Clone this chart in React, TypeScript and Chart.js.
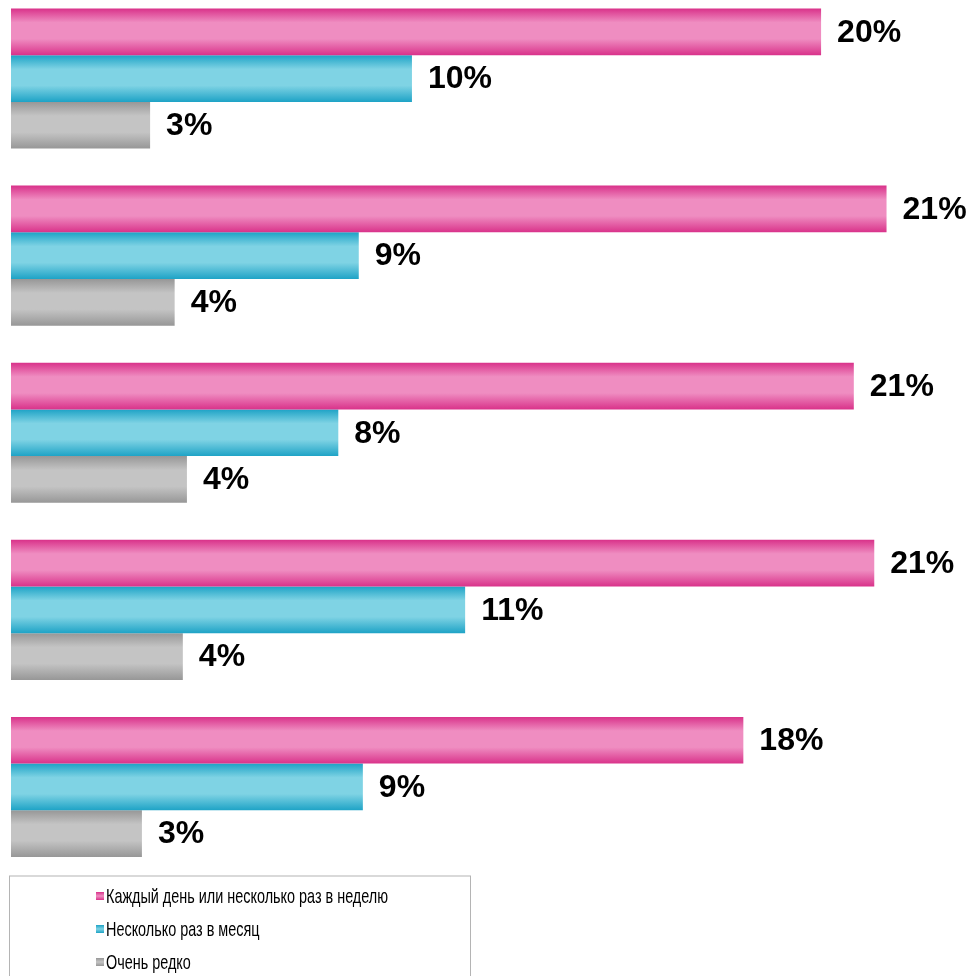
import React, { useEffect, useRef } from "react";
import { Chart, registerables } from "chart.js";

Chart.register(...registerables);

const categories = ["Группа 1", "Группа 2", "Группа 3", "Группа 4", "Группа 5"];
const seriesNames = [
  "Каждый день или несколько раз в неделю",
  "Несколько раз в месяц",
  "Очень редко",
];
const dailyValues = [19.8, 21.4, 20.6, 21.1, 17.9];
const monthlyValues = [9.8, 8.5, 8.0, 11.1, 8.6];
const rareValues = [3.4, 4.0, 4.3, 4.2, 3.2];

const CAT_PCT = 0.791;

const palettes = [
  { edge: "#d9328a", mid: "#ef8dc1", solid: "#e4519f" },
  { edge: "#1ea3c6", mid: "#7fd3e4", solid: "#3db8d6" },
  { edge: "#979797", mid: "#c4c4c4", solid: "#a8a8a8" },
];

function gradientFor(ctx: any) {
  const pal = palettes[ctx.datasetIndex] || palettes[0];
  const chart = ctx.chart;
  const ys = chart.scales && chart.scales.y;
  if (!ys || ctx.dataIndex === undefined || !chart.ctx) return pal.solid;
  const center = ys.getPixelForValue(ctx.dataIndex);
  const catH = ys.height / categories.length;
  const groupH = catH * CAT_PCT;
  const thick = groupH / 3;
  const top = center - groupH / 2 + ctx.datasetIndex * thick;
  if (!isFinite(top)) return pal.solid;
  const g = chart.ctx.createLinearGradient(0, top, 0, top + thick);
  g.addColorStop(0, pal.edge);
  g.addColorStop(0.3, pal.mid);
  g.addColorStop(0.65, pal.mid);
  g.addColorStop(1, pal.edge);
  return g;
}

const valueLabels = {
  id: "valueLabels",
  afterDatasetsDraw(chart: any) {
    const c = chart.ctx;
    c.save();
    c.font = 'bold 32px "Liberation Sans", Arial, sans-serif';
    c.fillStyle = "#000";
    c.textBaseline = "middle";
    c.textAlign = "left";
    chart.data.datasets.forEach((ds: any, di: number) => {
      const meta = chart.getDatasetMeta(di);
      meta.data.forEach((el: any, i: number) => {
        const v = ds.data[i];
        c.fillText(Math.round(v) + "%", el.x + 16, el.y + 1);
      });
    });
    c.restore();
  },
};

const boxedLegend = {
  id: "boxedLegend",
  afterDraw(chart: any) {
    const c = chart.ctx;
    const area = chart.chartArea;
    const top = area.bottom + 0.5;
    c.save();
    c.strokeStyle = "#b4b4b4";
    c.lineWidth = 1;
    c.strokeRect(9.5, top, 461, chart.height - top + 5);
    c.font = '21px "Liberation Sans", Arial, sans-serif';
    const w0 = c.measureText(seriesNames[0]).width;
    const sx = Math.min(1, 282 / w0);
    chart.data.datasets.forEach((ds: any, di: number) => {
      const pal = palettes[di];
      const cy = top + 20 + di * 33;
      const mg = c.createLinearGradient(0, cy - 4, 0, cy + 4);
      mg.addColorStop(0, pal.edge);
      mg.addColorStop(0.5, pal.mid);
      mg.addColorStop(1, pal.edge);
      c.fillStyle = mg;
      c.fillRect(96, cy - 4, 8, 8);
      c.fillStyle = "#000";
      c.textBaseline = "middle";
      c.save();
      c.translate(106, cy + 1);
      c.scale(sx, 1);
      c.fillText(ds.label, 0, 0);
      c.restore();
    });
    c.restore();
  },
};

export default function App() {
  const ref = useRef<HTMLCanvasElement | null>(null);
  useEffect(() => {
    document.body.style.margin = "0";
    if (!ref.current) return;
    const chart = new Chart(ref.current, {
      type: "bar",
      data: {
        labels: categories,
        datasets: [
          { label: seriesNames[0], data: dailyValues, backgroundColor: gradientFor },
          { label: seriesNames[1], data: monthlyValues, backgroundColor: gradientFor },
          { label: seriesNames[2], data: rareValues, backgroundColor: gradientFor },
        ],
      },
      options: {
        indexAxis: "y",
        animation: false,
        responsive: true,
        maintainAspectRatio: false,
        layout: { padding: { left: 11, right: 21, top: 0, bottom: 100.5 } },
        datasets: {
          bar: { categoryPercentage: CAT_PCT, barPercentage: 1, borderWidth: 0 },
        },
        scales: {
          x: { display: false, min: 0, max: 23 },
          y: { display: false },
        },
        plugins: {
          legend: { display: false },
          tooltip: { enabled: false },
        },
      },
      plugins: [valueLabels, boxedLegend],
    });
    return () => chart.destroy();
  }, []);
  return (
    <div style={{ position: "fixed", left: 0, top: -10, width: 973, height: 986 }}>
      <canvas ref={ref} />
    </div>
  );
}
